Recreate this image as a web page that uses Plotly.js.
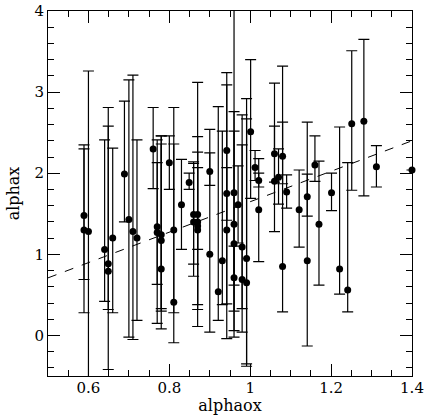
<!DOCTYPE html>
<html>
<head>
<meta charset="utf-8">
<script src="https://cdn.plot.ly/plotly-3.0.1.min.js"></script>
<style>html,body{margin:0;padding:0;background:#fff}#chart{width:428px;height:415px}</style>
</head>
<body>
<div id="chart"></div>
<script>
// alphaox values
const alphaox = [0.589,0.589,0.600,0.640,0.649,0.649,0.660,0.689,0.700,0.710,
  0.720,0.760,0.770,0.770,0.780,0.780,0.780,0.800,0.811,0.811,
  0.830,0.849,0.860,0.860,0.870,0.870,0.870,0.870,0.900,0.900,
  0.921,0.931,0.942,0.942,0.942,0.960,0.960,0.960,0.960,0.970,
  0.980,0.980,0.991,0.991,1.001,1.012,1.021,1.021,1.060,1.060,
  1.070,1.080,1.080,1.090,1.121,1.141,1.141,1.160,1.170,1.201,
  1.221,1.241,1.251,1.281,1.312,1.400];
// alphax values
const alphax = [1.48,1.30,1.28,1.06,0.885,0.79,1.20,1.99,1.43,1.28,
  1.20,2.30,1.34,1.27,1.24,1.17,0.82,2.13,1.30,0.41,
  1.61,1.885,1.49,1.40,1.49,1.40,1.35,1.30,2.02,1.00,
  0.54,0.92,2.28,1.75,1.30,1.76,1.37,1.13,0.71,1.61,
  1.09,0.69,0.95,0.65,2.51,2.07,1.91,1.55,2.24,1.90,
  1.95,2.21,0.85,1.77,1.55,1.71,0.92,2.10,1.37,1.76,
  0.82,0.56,2.61,2.64,2.08,2.04];
// upper end of error bar
const alphaxHigh = [2.30,2.35,3.26,2.41,2.58,2.81,2.31,2.89,3.15,3.21,
  2.41,2.81,2.13,2.41,2.46,2.36,2.46,2.46,2.81,2.36,
  2.17,2.00,2.14,2.12,2.26,2.45,3.12,2.07,2.25,2.54,
  2.82,2.52,3.09,3.24,2.07,4.60,2.76,2.52,1.10,2.09,
  2.72,2.35,2.92,2.67,3.40,2.28,2.18,2.00,2.58,3.11,
  2.30,2.63,3.32,1.98,2.04,1.99,2.63,2.46,2.15,2.00,
  2.57,2.13,3.51,3.65,2.34,2.04];
// lower end of error bar
const alphaxLow = [0.69,0.28,-0.70,0.42,0.32,-0.42,0.28,1.40,-0.02,-0.05,
  0.185,1.81,0.63,0.15,0.33,0.30,0.08,1.80,-0.09,0.28,
  1.06,1.80,0.88,0.73,1.06,0.38,0.11,0.32,1.85,0.04,
  0.185,0.38,1.42,-0.04,0.39,0.06,-0.02,0.62,0.30,1.14,
  0.33,0.04,-0.35,-0.38,1.69,1.91,1.83,0.91,1.89,1.28,
  1.62,1.87,0.29,1.57,1.09,1.47,-0.13,1.90,0.62,1.54,
  0.51,0.29,1.79,1.72,1.83,2.04];
// dashed relation
const lineX = [0.5, 1.4];
const lineY = [0.71, 2.40];

const xTicks = [0.6, 0.8, 1, 1.2, 1.4];
const xTickText = ['0.6', '0.8', '1', '1.2', '1.4'];
const yTicks = [0, 1, 2, 3, 4];
const yTickText = ['0', '1', '2', '3', '4'];

const plus = alphaxHigh.map((h, i) => h - alphax[i]);
const minus = alphaxLow.map((l, i) => alphax[i] - l);

const tickFont = {family: 'DejaVu Serif, Liberation Serif, serif', size: 15, color: '#000'};
const titleFont = {family: 'DejaVu Serif, Liberation Serif, serif', size: 16, color: '#000'};

const traces = [
  {x: lineX, y: lineY, mode: 'lines', line: {color: '#000', width: 1, dash: 'dash'}, hoverinfo: 'skip'},
  {x: alphaox, y: alphax, mode: 'markers', marker: {size: 7, color: 'rgba(0,0,0,0)'},
   error_y: {type: 'data', symmetric: false, array: plus, arrayminus: minus, color: '#000', thickness: 1.2, width: 5.5}},
  {x: alphaox, y: alphax, mode: 'markers', cliponaxis: false, marker: {size: 7, color: '#000'}}
];

const axisCommon = {
  showgrid: false, zeroline: false, showline: true, linecolor: '#000', linewidth: 1,
  mirror: 'allticks', ticks: 'inside', ticklen: 12, tickwidth: 1, tickcolor: '#000',
  tickfont: tickFont
};

const layout = {
  width: 428, height: 415,
  margin: {l: 48, r: 16, t: 11, b: 39},
  paper_bgcolor: '#fff', plot_bgcolor: '#fff',
  showlegend: false,
  font: titleFont,
  xaxis: Object.assign({}, axisCommon, {
    range: [0.5, 1.4], tickmode: 'array', tickvals: xTicks, ticktext: xTickText,
    ticklabelstandoff: -2,
    minor: {dtick: 0.05, tick0: 0, ticks: 'inside', ticklen: 6, tickcolor: '#000', showgrid: false},
    title: {text: 'alphaox', font: titleFont, standoff: 6}
  }),
  yaxis: Object.assign({}, axisCommon, {
    range: [-0.5, 4], tickmode: 'array', tickvals: yTicks, ticktext: yTickText,
    minor: {dtick: 0.2, tick0: 0, ticks: 'inside', ticklen: 6, tickcolor: '#000', showgrid: false},
    title: {text: 'alphax', font: titleFont, standoff: 10}
  })
};

Plotly.newPlot('chart', traces, layout, {staticPlot: true, displayModeBar: false});
</script>
</body>
</html>
